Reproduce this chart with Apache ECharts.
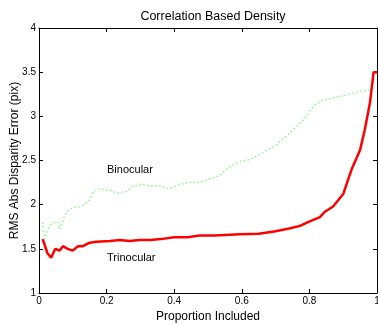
<!DOCTYPE html>
<html><head><meta charset="utf-8">
<script src="https://cdn.jsdelivr.net/npm/echarts@6/dist/echarts.min.js"></script>
<style>html,body{margin:0;padding:0;background:#fff}#c{width:378px;height:325px}</style>
</head><body><div id="c"></div>
<script>
const title = "Correlation Based Density";
const xName = "Proportion Included";
const yName = "RMS Abs Disparity Error (pix)";
const xTicks = [0, 0.2, 0.4, 0.6, 0.8, 1];
const yTicks = [1, 1.5, 2, 2.5, 3, 3.5, 4];
const seriesNames = ["Binocular", "Trinocular"];

const binocularX = [0.011,0.016,0.026,0.036,0.046,0.056,0.061,0.071,0.081,0.090,0.105,0.12,0.135,0.15,0.16,0.18,0.21,0.233,0.258,0.278,0.31,0.327,0.357,0.387,0.416,0.446,0.476,0.505,0.535,0.56,0.594,0.624,0.663,0.703,0.742,0.782,0.811,0.831,0.87,0.92,0.96,0.99];
const binocularY = [1.80,1.61,1.72,1.78,1.80,1.80,1.72,1.83,1.91,1.95,1.97,1.98,2.00,2.06,2.15,2.18,2.16,2.13,2.15,2.21,2.23,2.21,2.21,2.18,2.23,2.25,2.25,2.29,2.33,2.42,2.49,2.51,2.59,2.68,2.81,2.96,3.11,3.17,3.21,3.25,3.29,3.31];

const trinocularX = [0.011,0.025,0.036,0.048,0.061,0.071,0.085,0.10,0.115,0.13,0.15,0.17,0.21,0.239,0.268,0.298,0.33,0.36,0.40,0.44,0.475,0.52,0.594,0.65,0.70,0.74,0.772,0.801,0.831,0.846,0.87,0.90,0.915,0.925,0.95,0.964,0.979,0.99,1.0];
const trinocularY = [1.61,1.45,1.40,1.50,1.48,1.53,1.50,1.48,1.53,1.53,1.57,1.58,1.59,1.60,1.59,1.60,1.60,1.61,1.63,1.63,1.65,1.65,1.665,1.67,1.70,1.73,1.76,1.81,1.86,1.92,1.98,2.12,2.29,2.40,2.62,2.85,3.15,3.50,3.50];

const font = "Liberation Sans, Arial, sans-serif";
const pair = (xs, ys) => xs.map((x, i) => [x, ys[i]]);
const chart = echarts.init(document.getElementById('c'));
const axBase = () => ({
  axisLine: {show: true, onZero: false, lineStyle: {color: '#000', width: 1}},
  axisTick: {show: true, inside: true, length: 4, lineStyle: {color: '#000'}},
  splitLine: {show: false}
});
chart.setOption({
  animation: false,
  title: {text: title, left: 208, textAlign: 'center', top: 5,
    textStyle: {fontFamily: font, fontSize: 12.5, fontWeight: 'normal', color: '#000'}},
  grid: {left: 39, right: 1, top: 28, bottom: 32, containLabel: false, outerBoundsMode: 'none'},
  xAxis: [
    Object.assign({type: 'value', min: 0, max: 1, interval: 0.2, position: 'bottom',
      name: xName, nameLocation: 'middle', nameGap: 18, nameMoveOverlap: false,
      nameTextStyle: {fontFamily: font, fontSize: 12, color: '#000'},
      axisLabel: {fontFamily: font, fontSize: 10, color: '#000', margin: 3,
        formatter: v => xTicks.includes(+v.toFixed(1)) ? String(+v.toFixed(1)) : ''}}, axBase()),
    Object.assign({type: 'value', min: 0, max: 1, interval: 0.2, position: 'top',
      axisLabel: {show: false}}, axBase())
  ],
  yAxis: [
    Object.assign({type: 'value', min: 1, max: 4, interval: 0.5, position: 'left',
      name: yName, nameLocation: 'middle', nameGap: 18, nameRotate: 90, nameMoveOverlap: false,
      nameTextStyle: {fontFamily: font, fontSize: 12, color: '#000'},
      axisLabel: {fontFamily: font, fontSize: 10, color: '#000', margin: 3,
        formatter: v => yTicks.includes(v) ? String(v) : ''}}, axBase()),
    Object.assign({type: 'value', min: 1, max: 4, interval: 0.5, position: 'right',
      axisLabel: {show: false}}, axBase())
  ],
  series: [
    {name: seriesNames[0], type: 'line', data: pair(binocularX, binocularY), showSymbol: false,
      lineStyle: {color: '#80ff80', width: 1.5, type: [1.5, 2.5]}},
    {name: seriesNames[1], type: 'line', data: pair(trinocularX, trinocularY), showSymbol: false,
      lineStyle: {color: '#ff0000', width: 2.5}}
  ],
  graphic: [
    {type: 'text', left: 107, top: 164, style: {text: seriesNames[0], font: '11px ' + font, fill: '#000'}},
    {type: 'text', left: 107, top: 252, style: {text: seriesNames[1], font: '11px ' + font, fill: '#000'}}
  ]
});
</script></body></html>
